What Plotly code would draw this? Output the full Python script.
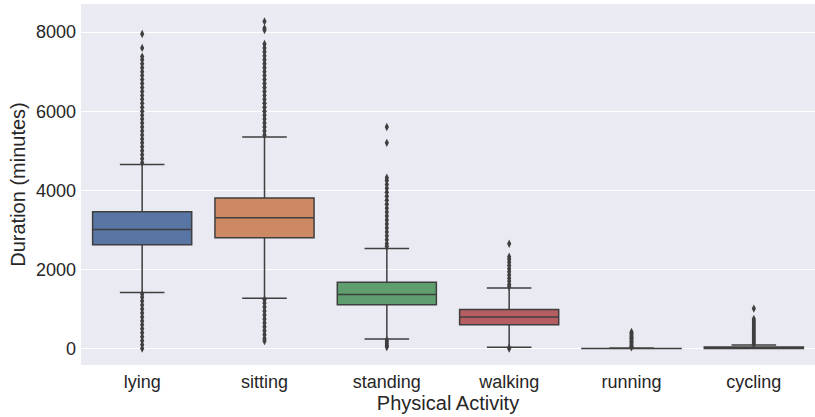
import plotly.graph_objects as go

categories = ["lying", "sitting", "standing", "walking", "running", "cycling"]
q1 = [2625, 2800, 1105, 600, 0, 0]
median = [3010, 3305, 1365, 800, 0, 5]
q3 = [3460, 3805, 1675, 985, 5, 40]
lower_whisker = [1415, 1270, 245, 35, 0, 0]
upper_whisker = [4650, 5350, 2530, 1530, 15, 90]

lying_out = [4700, 4800, 4900, 5000, 5100, 5200, 5300, 5400, 5500, 5600, 5700, 5800,
             5900, 6000, 6100, 6200, 6300, 6400, 6500, 6600, 6700, 6800, 6900, 7000,
             7100, 7200, 7300, 7380, 7600, 7950,
             1380, 1300, 1200, 1100, 1000, 900, 800, 700, 600, 500, 400, 300, 200,
             100, 0]
sitting_out = [5400, 5500, 5600, 5700, 5800, 5900, 6000, 6100, 6200, 6300, 6400, 6500,
               6600, 6700, 6800, 6900, 7000, 7100, 7200, 7300, 7400, 7500, 7600, 7700,
               8050, 8100, 8270,
               1240, 1150, 1050, 950, 850, 750, 650, 550, 450, 350, 250, 190]
standing_out = [2580, 2650, 2750, 2850, 2950, 3050, 3150, 3250, 3350, 3450, 3550, 3650,
                3750, 3850, 3950, 4050, 4150, 4250, 4320, 5200, 5600,
                220, 170, 120, 70, 40]
walking_out = [1560, 1620, 1700, 1780, 1860, 1940, 2020, 2100, 2180, 2260, 2320, 2650,
               20, 0]
running_out = [30, 60, 100, 140, 180, 220, 260, 300, 340, 380, 420]
cycling_out = [110, 150, 200, 250, 300, 350, 400, 450, 500, 550, 600, 650, 700, 750,
               1010]
outliers = [lying_out, sitting_out, standing_out, walking_out, running_out, cycling_out]

colors = ["#5875a4", "#cc8963", "#5f9e6e", "#b55d60", "#857aab", "#8d7866"]
line_col = "#3f3f3f"

fig = go.Figure()
for i, cat in enumerate(categories):
    fig.add_trace(go.Box(
        x=[cat], q1=[q1[i]], median=[median[i]], q3=[q3[i]],
        lowerfence=[lower_whisker[i]], upperfence=[upper_whisker[i]],
        fillcolor=colors[i], line=dict(color=line_col, width=1.5),
        width=0.81, whiskerwidth=0.45, boxpoints=False, showlegend=False,
        hoverinfo="skip"))
for i, cat in enumerate(categories):
    fig.add_trace(go.Scatter(
        x=[cat] * len(outliers[i]), y=outliers[i], mode="markers",
        marker=dict(symbol="diamond-tall", size=6, color=line_col,
                    line=dict(width=0)),
        showlegend=False, hoverinfo="skip"))

fig.update_layout(
    width=815, height=417,
    margin=dict(l=81, r=0, t=4, b=52),
    paper_bgcolor="white", plot_bgcolor="#eaeaf2",
    boxmode="overlay",
    font=dict(family="Liberation Sans, Arial, sans-serif", size=18, color="#262626"),
    xaxis=dict(categoryorder="array", categoryarray=categories, range=[-0.5, 5.5],
               showgrid=False, zeroline=False, ticks="",
               ticklabelstandoff=4,
               title=dict(text="Physical Activity", font=dict(size=20), standoff=2)),
    yaxis=dict(range=[-415, 8710], tickvals=[0, 2000, 4000, 6000, 8000],
               showgrid=True, gridcolor="white", gridwidth=1.2, zeroline=False,
               ticks="", ticklabelstandoff=4,
               title=dict(text="Duration (minutes)", font=dict(size=20),
                          standoff=4)),
)
fig.write_html("out.html")
